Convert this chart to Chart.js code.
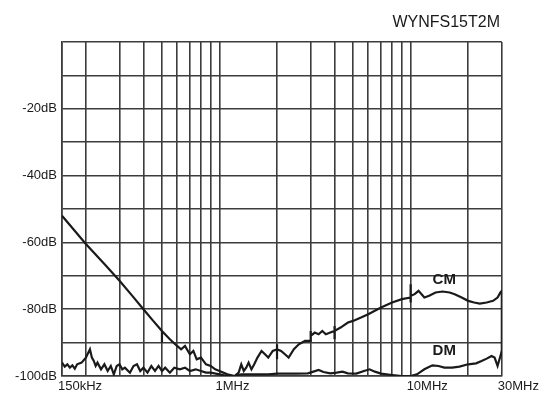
<!DOCTYPE html>
<html>
<head>
<meta charset="utf-8">
<script src="https://cdn.jsdelivr.net/npm/chart.js@4"></script>
<style>
  html, body { margin: 0; padding: 0; background: #fff; }
  #wrap { width: 546px; height: 394px; }
</style>
</head>
<body>
<div id="wrap"><canvas id="chart" width="546" height="394"></canvas></div>
<script>
// frequencies in MHz, attenuation in dB
const cmFreq = [0.15, 0.2, 0.25, 0.3, 0.35, 0.4, 0.45, 0.5, 0.5, 0.5, 0.55, 0.6, 0.63, 0.66, 0.7, 0.73, 0.76, 0.8, 0.85, 0.9, 0.95,
  1.0, 1.1, 1.2, 1.26, 1.3, 1.34, 1.38, 1.42, 1.47, 1.52, 1.58, 1.66, 1.73, 1.8, 1.9, 2.0, 2.0, 2.0, 2.0,
  2.1, 2.2, 2.3, 2.45, 2.6, 2.8, 3.0, 3.0, 3.0, 3.15, 3.3, 3.45, 3.6, 3.8, 4.0, 4.0, 4.0, 4.0,
  4.3, 4.7, 5.0, 5.5, 6, 7, 8, 9, 10, 10, 10, 10, 10.5, 11, 11.8, 12.5, 13.5, 14.7, 16, 17, 18.5,
  20, 21.5, 23, 25, 27, 28.5, 29.5, 30, 30];
const cmValues = [-52, -60.5, -66.5, -71.5, -76, -80, -83.5, -86.5, -90, -86.5, -89, -91, -92, -91, -93.5, -92.5, -95, -94.5, -96.5, -97, -98,
  -98.5, -99.5, -100, -99, -96.5, -98.5, -97.5, -96, -98, -96.5, -94.5, -92.5, -93.5, -94.5, -92.5, -92, -90.5, -95, -92,
  -92.5, -93.5, -94.5, -92, -90.5, -89.5, -89.5, -86.5, -88, -87, -87.5, -86.5, -87.5, -87, -86.5, -85, -89, -86.5,
  -85.5, -84, -83.5, -82.5, -81.5, -79.5, -78, -77, -76.5, -72.5, -78, -76, -75.5, -74.5, -76.5, -76, -75, -74.7, -75, -75.5, -76.5,
  -77.5, -78, -78.3, -78, -77.5, -76.5, -75, -74.5, -94];

const dmFreq = [0.15, 0.155, 0.16, 0.165, 0.17, 0.175, 0.18, 0.19, 0.2, 0.21, 0.215, 0.22, 0.225, 0.23, 0.24, 0.25, 0.26, 0.27, 0.28, 0.29,
  0.3, 0.31, 0.32, 0.34, 0.355, 0.37, 0.385, 0.4, 0.42, 0.44, 0.46, 0.48, 0.5, 0.52, 0.55, 0.58, 0.62, 0.66, 0.7, 0.75, 0.8, 0.85, 0.9,
  1.0, 1.1, 1.2, 1.3, 1.5, 1.8, 2.0, 2.5, 2.9, 3.1, 3.3, 3.5, 3.8, 4.1, 4.4, 4.7, 5.2, 5.7, 6.1, 6.5, 7, 8, 9,
  10, 10.8, 11.8, 13, 14, 15, 16.5, 18, 20, 22, 23.5, 25, 26.5, 27.5, 28.5, 29.5, 30];
const dmValues = [-96, -97.2, -96.5, -97.5, -96.8, -97.8, -96.5, -96, -94.5, -92, -94.5, -95.5, -97, -96, -98, -96.5, -98.5, -97, -99.5, -97,
  -96.5, -98, -97.5, -99, -97, -96.5, -98.5, -97.5, -99, -97, -98.5, -97, -98.5, -97.5, -99, -97.5, -98, -97.5, -98.5, -98, -98.5, -99, -99,
  -99.5, -100, -100, -99.5, -99.5, -99.5, -99.3, -99.3, -99.2, -98.7, -98.2, -98.8, -99.2, -99, -98.7, -99.2, -99.3, -98.5, -98, -98.7, -99.3, -99.7, -100,
  -100, -99.5, -98, -96.8, -97, -97.5, -97.5, -97.2, -96.5, -96.2, -95.5, -94.8, -94, -94.5, -97, -94, -92.5];

const gridFreqs = [0.15, 0.2, 0.3, 0.4, 0.5, 0.6, 0.7, 0.8, 0.9, 1, 2, 3, 4, 5, 6, 7, 8, 9, 10, 20, 30];
const freqLabels = { 0.15: "150kHz", 1: "1MHz", 10: "10MHz", 30: "30MHz" };
const curveLabels = [
  { text: "CM", x: 15, y: -71.2 },
  { text: "DM", x: 15, y: -92.6 }
];
const title = "WYNFS15T2M";

const FONT = "'Liberation Sans', Arial, sans-serif";

function toPoints(xs, ys) {
  return xs.map((x, i) => ({ x: x, y: ys[i] }));
}

// title and CM / DM labels
const textPlugin = {
  id: "textPlugin",
  afterDraw(chart) {
    const ctx = chart.ctx;
    const xs = chart.scales.x;
    const ys = chart.scales.y;
    ctx.save();
    ctx.fillStyle = "#1a1a1a";
    ctx.font = "16px " + FONT;
    ctx.textAlign = "right";
    ctx.textBaseline = "middle";
    ctx.fillText(title, 500, 23);

    ctx.font = "bold 15px " + FONT;
    ctx.textAlign = "center";
    curveLabels.forEach(l => {
      ctx.fillText(l.text, xs.getPixelForValue(l.x), ys.getPixelForValue(l.y));
    });
    ctx.restore();
  }
};

const lineStyle = {
  borderColor: "#1a1a1a",
  borderWidth: 2.2,
  pointRadius: 0,
  tension: 0,
  fill: false
};

new Chart(document.getElementById("chart"), {
  type: "line",
  data: {
    datasets: [
      Object.assign({ label: "CM", data: toPoints(cmFreq, cmValues) }, lineStyle),
      Object.assign({ label: "DM", data: toPoints(dmFreq, dmValues) }, lineStyle)
    ]
  },
  options: {
    responsive: false,
    animation: false,
    layout: { padding: { top: 42, right: 42, left: 0, bottom: 0 } },
    plugins: {
      legend: { display: false },
      tooltip: { enabled: false }
    },
    scales: {
      x: {
        type: "logarithmic",
        min: 0.15,
        max: 30,
        afterBuildTicks: scale => {
          scale.ticks = gridFreqs.map(v => ({ value: v }));
        },
        afterFit: scale => { scale.height = 18; },
        grid: { color: "#3c3c3c", lineWidth: 1.6, drawTicks: false },
        border: { color: "#3c3c3c", width: 1.6 },
        ticks: {
          autoSkip: false,
          maxRotation: 0,
          align: "start",
          labelOffset: -4,
          padding: 3,
          color: "#1a1a1a",
          font: { family: FONT, size: 13 },
          callback: v => freqLabels[v] || ""
        }
      },
      y: {
        min: -100,
        max: 0,
        afterFit: scale => { scale.width = 62; },
        grid: { color: "#3c3c3c", lineWidth: 1.6, drawTicks: false },
        border: { color: "#3c3c3c", width: 1.6 },
        ticks: {
          stepSize: 10,
          padding: 5,
          color: "#1a1a1a",
          font: { family: FONT, size: 13 },
          callback: v => (v !== 0 && v % 20 === 0) ? v + "dB" : ""
        }
      }
    }
  },
  plugins: [textPlugin]
});
</script>
</body>
</html>
